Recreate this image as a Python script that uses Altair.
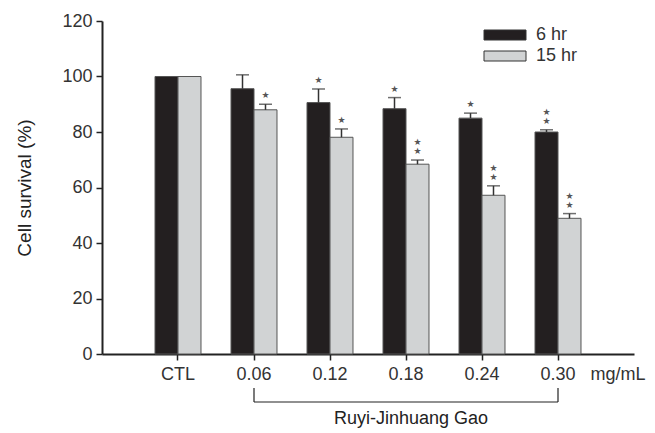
import altair as alt
import pandas as pd

doses = ["CTL", "0.06", "0.12", "0.18", "0.24", "0.30"]
series = ["6 hr", "15 hr"]
mean_6hr = [100, 95.6, 90.6, 88.4, 85.0, 80.0]
err_6hr = [0, 5.0, 4.9, 4.0, 1.8, 0.8]
mean_15hr = [100, 88.0, 78.1, 68.4, 57.2, 48.9]
err_15hr = [0, 2.0, 3.0, 1.5, 3.4, 1.7]
stars_6hr = [0, 0, 1, 1, 1, 2]
stars_15hr = [0, 1, 1, 2, 2, 2]
bar_colors = ["#231f20", "#d1d3d4"]
y_title = "Cell survival (%)"
unit_label = "mg/mL"
group_label = "Ruyi-Jinhuang Gao"

rows = []
for i, d in enumerate(doses):
    for s, m, e, st in ((series[0], mean_6hr, err_6hr, stars_6hr), (series[1], mean_15hr, err_15hr, stars_15hr)):
        rows.append({"dose": d, "series": s, "mean": m[i], "err": e[i],
                     "top": m[i] + e[i], "stars": st[i]})
df = pd.DataFrame(rows)

FONT = "Liberation Sans"
TXT = "#333333"
FS = 18

x_scale = alt.Scale(domain=doses, paddingInner=0.395, paddingOuter=0.6975)
x_enc = alt.X("dose:N", scale=x_scale,
              axis=alt.Axis(title=None, labelAngle=0, labelFontSize=FS, labelColor=TXT,
                            labelFont=FONT, tickSize=6, labelPadding=5, domainWidth=2,
                            tickWidth=1.5, domainColor="#222", tickColor="#222"))
xs = alt.X("dose:N", scale=x_scale)
xoff = alt.XOffset("series:N", scale=alt.Scale(domain=series, paddingInner=0, paddingOuter=0))
y_scale = alt.Scale(domain=[0, 120])

base = alt.Chart(df)

bars = base.mark_bar(stroke="#555555", strokeWidth=1).encode(
    x=x_enc,
    xOffset=xoff,
    y=alt.Y("mean:Q", scale=y_scale,
            axis=alt.Axis(title=y_title, titleFontSize=19, titleFont=FONT, titleColor="#222",
                          titleFontWeight="normal", titlePadding=27, values=[0, 20, 40, 60, 80, 100, 120],
                          labelFontSize=FS, labelColor=TXT, labelFont=FONT, tickSize=6,
                          labelPadding=4, grid=False, domainWidth=2, tickWidth=1.5,
                          domainColor="#222", tickColor="#222")),
    color=alt.Color("series:N",
                    scale=alt.Scale(domain=series, range=bar_colors),
                    legend=alt.Legend(title=None, orient="none", legendX=378, legendY=5,
                                      symbolType="M-1,-1H7.4V1H-1Z", symbolSize=100,
                                      symbolStrokeColor="#333", symbolStrokeWidth=1,
                                      labelFontSize=FS, labelFont=FONT, labelColor=TXT,
                                      labelOffset=38, rowPadding=3)),
)

err_df = base.transform_filter("datum.err > 0")
err_line = err_df.mark_rule(color="#333333", strokeWidth=1.5).encode(
    x=xs, xOffset=xoff, y=alt.Y("mean:Q", scale=y_scale), y2="top:Q")
err_cap = err_df.mark_tick(color="#333333", thickness=1.5, size=13, orient="horizontal").encode(
    x=xs, xOffset=xoff, y=alt.Y("top:Q", scale=y_scale))

star1 = base.transform_filter("datum.stars >= 1").mark_text(
    text="★", fontSize=9, color="#555555", dy=-9, baseline="middle", font="DejaVu Sans").encode(
    x=xs, xOffset=xoff, y=alt.Y("top:Q", scale=y_scale))
star2 = base.transform_filter("datum.stars >= 2").mark_text(
    text="★", fontSize=9, color="#555555", dy=-18, baseline="middle", font="DejaVu Sans").encode(
    x=xs, xOffset=xoff, y=alt.Y("top:Q", scale=y_scale))

bracket_h = alt.Chart(pd.DataFrame({"a": [doses[1]], "b": [doses[-1]]})).mark_rule(
    color="#222", strokeWidth=1.2).encode(
    x=alt.X("a:N", scale=x_scale), x2="b:N", y=alt.value(381))
bracket_v = alt.Chart(pd.DataFrame({"d": [doses[1], doses[-1]]})).mark_rule(
    color="#222", strokeWidth=1.2).encode(
    x=alt.X("d:N", scale=x_scale), y=alt.value(367), y2=alt.value(381))
group_txt = alt.Chart(pd.DataFrame({"t": [group_label]})).mark_text(
    fontSize=FS, font=FONT, color="#222", baseline="middle").encode(
    text="t:N", x=alt.value(309), y=alt.value(398))
unit_txt = alt.Chart(pd.DataFrame({"t": [unit_label]})).mark_text(
    fontSize=FS, font=FONT, color=TXT, baseline="middle").encode(
    text="t:N", x=alt.value(516), y=alt.value(354))

chart = alt.layer(bars, err_line, err_cap, star1, star2, bracket_h, bracket_v, group_txt, unit_txt).properties(
    width=532, height=333,
    autosize=alt.AutoSizeParams(type="none"),
    padding={"left": 94, "top": 13, "right": 13, "bottom": 75},
).configure_view(stroke=None)

chart.save("out.html", embed_options={"renderer": "svg", "actions": False})
